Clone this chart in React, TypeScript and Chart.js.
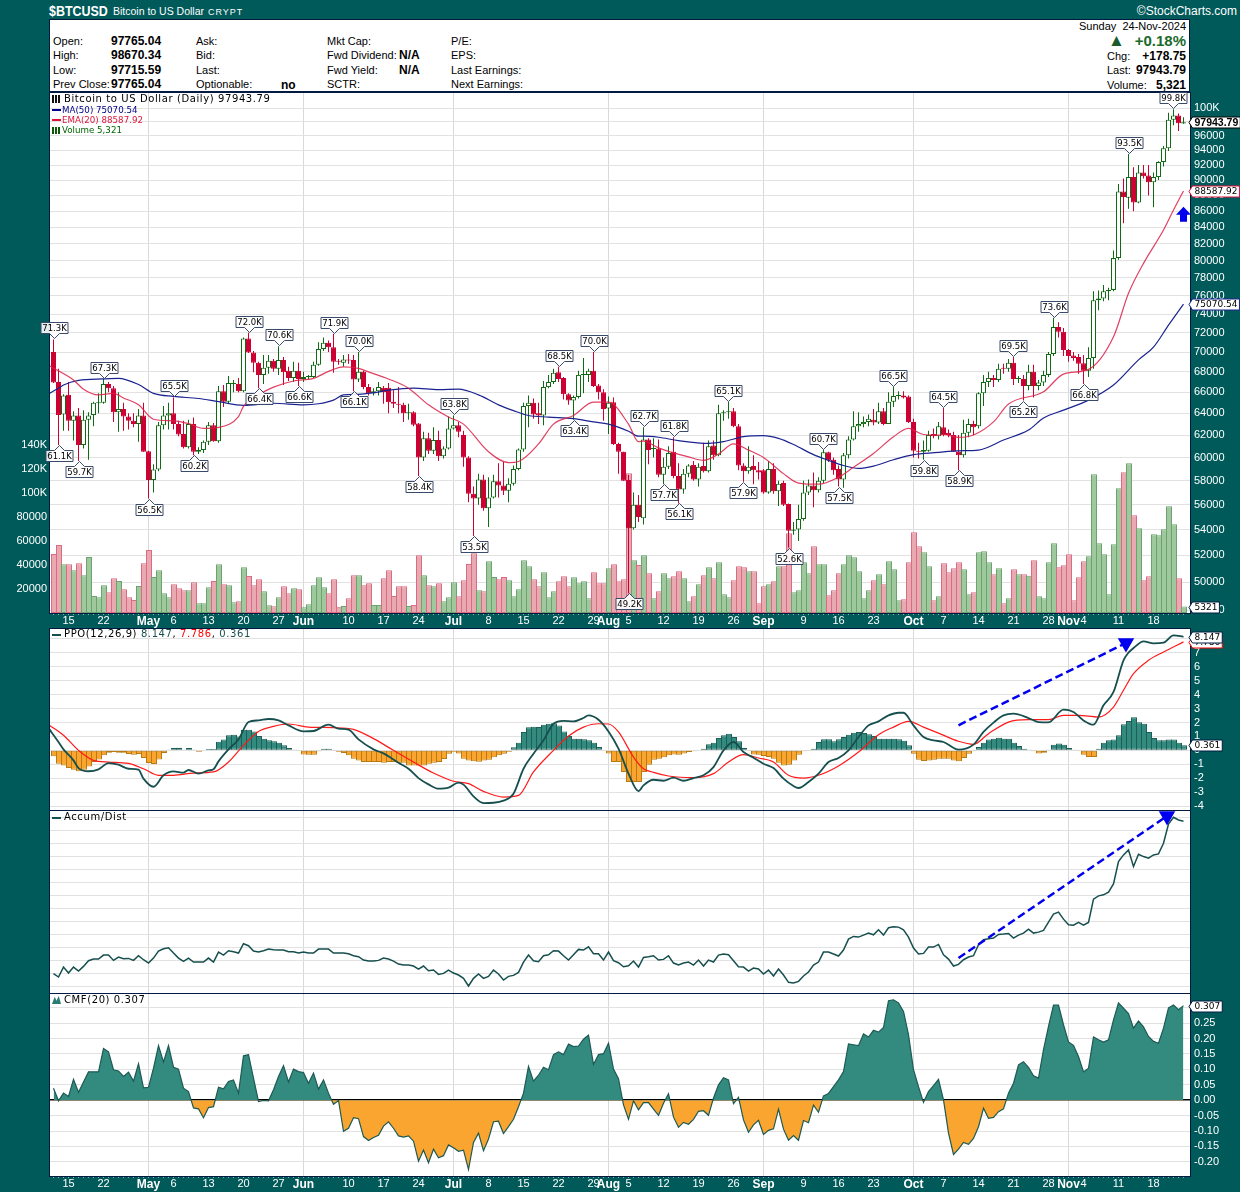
import React, { useEffect, useRef } from 'react'
import { Chart, registerables } from 'chart.js'

Chart.register(...registerables)

// days are counted from 12-Apr-2024 = 0, last day is 24-Nov-2024 = 226
const opens = [
  70000,67000,63900,65750,63300,63800,61100,63400,63850,64950,
  65000,66800,66400,64100,64400,63700,63300,63000,63800,60550,
  58050,58950,62900,63800,64000,63000,62100,60900,63000,60500,
  60650,61400,62900,61450,66100,65100,66800,66800,66100,71400,
  69950,68900,67700,68400,69100,68300,69200,68100,67400,68100,
  67300,67500,67500,68700,70300,70950,70500,69100,68900,69250,
  69200,67250,68000,66500,65900,66100,66450,66450,65100,64900,
  64800,64000,64100,63050,60000,61700,60600,61550,60100,60800,
  62600,62900,62000,60000,56900,56500,58100,55700,56600,57950,
  57600,57150,57750,59000,60700,64700,65000,64000,63800,66500,
  67000,67950,67400,65800,65200,65550,67700,67700,68100,66650,
  66000,64450,65050,61200,60500,58050,54100,56000,54900,61600,
  60750,60800,58500,59200,60500,58400,57250,58600,59350,58100,
  59250,58800,61050,60200,64000,64100,64200,62800,59300,58800,
  59250,58900,58900,57000,59000,57100,57800,56050,53900,54000,
  54850,57000,57600,57200,58000,60450,59800,59000,58100,60200,
  61600,62800,63000,63200,63400,63150,64200,63000,65100,65650,
  65700,65600,63200,60600,60500,60600,62100,61900,62700,62200,
  62000,60500,60200,62200,63000,62800,65900,67000,67400,67200,
  68350,68300,68900,67300,67300,66600,68000,66600,66950,67700,
  69800,72600,72100,70200,69650,69500,68850,68100,69400,75500,
  75700,76500,76650,80300,88500,87700,90400,87100,91000,90600,
  89700,90400,92400,94300,98300,98900,97765.04,
]
const closes = [
  66950,63850,65700,63300,63800,61100,63400,63800,65000,65050,
  66800,66400,64100,64400,63700,63300,63000,63800,60500,58050,
  58950,62900,63800,64000,63000,62050,60900,63000,60500,60650,
  61400,62900,61450,66100,65100,66900,66900,66100,71400,69950,
  68900,67700,68400,69100,68300,69200,67950,67400,68100,67300,
  67500,67600,68700,70300,70950,70500,69000,69000,69250,69150,
  67250,68000,66500,65900,66100,66500,66000,65050,64900,64800,
  64000,64100,62950,60000,61700,60600,61550,60100,60800,62600,
  62900,62300,60000,56900,56500,58100,55700,56600,57950,57600,
  57150,57750,59000,60700,64700,65000,63900,63800,66500,67000,
  67900,67300,65800,65200,65550,67700,67750,68100,66600,66000,
  64400,65000,61200,60500,58000,54100,56000,55000,61600,60650,
  60800,58500,59200,60400,58400,57250,58600,59300,58100,59200,
  58800,61000,60200,64000,64100,64200,62800,59300,58800,59200,
  58900,58700,57000,59000,57100,57750,56000,53900,54000,54850,
  57000,57600,57200,58000,60450,59750,58900,58100,60200,61600,
  62800,63000,63200,63500,63150,64200,63000,65100,65650,65700,
  65500,63200,60600,60500,60650,62000,61900,62800,62000,62000,
  60500,60200,62200,63000,62700,65900,67000,67400,67200,68300,
  68300,68900,67300,67350,66600,68000,66600,66950,67700,69800,
  72600,72100,70200,69600,69400,68800,68100,69400,75500,75700,
  76500,76650,80300,88500,87800,90400,87100,91000,90500,89700,
  90400,92400,94300,98300,98900,97800,97943.79,
]
const highs = [
  71300,68300,65800,67000,64200,64500,64300,64100,65100,65900,
  67300,67000,66600,66000,65000,64000,64000,64400,65000,60600,
  59400,63200,64700,65000,65500,63300,63300,63400,63600,60900,
  61500,63200,63100,66600,66700,67600,67200,67400,71500,72000,
  70100,69000,69700,69700,69300,70600,69500,68500,69000,68900,
  68000,67700,69000,71000,71500,71200,71900,69300,69700,69800,
  69700,70000,68100,66800,66400,67000,66600,66900,66200,66500,
  65000,64900,64200,63100,62300,62200,62700,62400,61000,63700,
  63800,63200,62400,60100,57500,58600,58500,58300,58500,59500,
  59600,58200,59300,60800,65000,65700,65400,65000,67100,67700,
  68300,68500,67500,65900,65700,68100,69400,68300,70000,66800,
  66300,65600,65500,61300,60500,58500,57000,56800,62700,61700,
  61700,61600,60000,61000,61800,59500,59000,59400,59700,59500,
  61300,61500,61500,64800,64300,65100,64500,63000,59500,61000,
  60200,59600,59000,59700,59500,58000,58000,56100,54600,56000,
  58000,58100,58700,58300,60700,60500,60000,59300,60400,61900,
  64200,64100,63700,63900,64400,65000,64500,66000,66500,66100,
  66100,65700,63500,61300,61500,62400,62600,63200,64500,62500,
  62300,62000,63400,63500,63300,66000,67700,68000,67700,68800,
  68800,69300,69500,67600,67700,68700,68700,67200,68100,70000,
  73600,73100,72500,70300,70000,69800,69700,70500,76500,76600,
  77200,76900,81200,89500,90200,93500,91700,92000,92000,92000,
  91000,92500,94600,99300,99800,99200,98670.34,
]
const lows = [
  66900,61100,62400,62400,61500,59700,60800,59800,62800,64000,
  64900,66000,63200,62300,62400,62500,62700,61400,60500,56500,
  57000,58800,62500,62500,62500,61900,60800,60800,60200,60300,
  60400,61100,61400,61300,64600,64900,66000,66000,66000,69900,
  67950,66400,66800,67800,68000,67700,66700,67100,67000,66600,
  67000,67300,67400,68600,70100,70000,67900,68700,68500,68800,
  66100,67000,66300,65700,65700,65700,64900,64000,64500,64000,
  63200,63400,62800,58400,59700,60300,60300,59700,59900,60700,
  62500,61800,59200,56200,53500,56000,55500,54200,56500,56600,
  56800,56200,57600,58900,60500,62700,63500,63000,62900,66400,
  66800,67000,65300,64800,63400,65400,65900,67000,66500,65300,
  63300,62100,61100,58600,58000,49200,54000,54600,54400,59400,
  60000,58300,57700,59000,58200,56100,56900,58300,58000,57500,
  58700,58700,59800,60100,63300,63500,62700,58900,57900,58600,
  57700,58100,56900,56900,56900,55900,55900,52600,53600,53100,
  54700,56800,55800,57000,57800,59600,58500,57500,57400,59900,
  61500,62300,62700,62800,62900,63000,62900,63000,64600,65300,
  65400,63100,60000,59900,59800,60500,61700,61600,61900,61800,
  60500,58900,60000,61800,62000,62600,64700,66500,66500,67000,
  67800,68000,66700,66900,65200,66200,65500,66200,66600,67500,
  69600,71500,69600,69000,69100,67800,66800,67500,68300,74400,
  75400,75500,76500,80100,84500,86300,86000,87000,90200,88000,
  86500,90000,91800,93900,97500,96700,97715.59,
]
const volumes = [
  49200,56700,40600,40600,35600,41400,31400,46700,14200,13100,
  23100,17200,28900,26700,19700,13100,10800,22500,41400,52500,
  30000,35600,16400,13100,23900,20600,18900,18900,25600,8100,
  8100,21400,26700,40600,23900,23100,8900,9700,38100,30900,
  23100,28100,18100,6400,5600,13100,22200,16400,20600,19700,
  4700,7200,23100,29700,21400,16400,28100,5300,5800,12200,
  31400,31400,23100,24700,6700,6700,28900,35600,14200,22200,
  22200,5800,6700,48100,31400,23100,22200,24700,9700,13100,
  25600,13900,27200,40900,49800,18900,18100,43100,30000,28100,
  30000,27200,13900,19700,43900,38900,28100,22200,33900,13100,
  18100,26400,30600,22200,29700,24700,26400,12200,33900,24700,
  24700,37300,40600,26400,28100,116500,43900,40000,48100,33100,
  12200,18100,33100,28900,30600,34800,28900,9700,13900,23900,
  31400,38100,28900,42300,15600,13100,27200,38900,38100,34800,
  34800,8100,22200,23900,26400,38900,38900,66400,17200,18900,
  42300,33100,55600,40600,40600,14700,18900,33100,40600,48100,
  46400,34800,12200,18900,27200,32200,23900,43100,36400,10600,
  11400,42300,67300,55600,50600,38900,10600,13900,41400,33900,
  37300,42300,36400,15600,17200,50600,51400,42300,32200,37300,
  8100,12200,36400,32200,32200,31100,43900,13900,12200,42300,
  58100,38100,39800,48900,10600,29700,43100,47300,115600,58100,
  48900,15600,57300,104000,117300,124800,81500,70600,27200,30600,
  65600,64800,69800,89000,73900,28900,5321,
]
const maDays = [-1,1,2,5,10,13,17,20,24,29,33,38,44,50,53,56,58,61,64,67,72,77,81,85,89,92,95,99,104,108,111,115,117,118,121,125,131,134,138,142,145,148,152,155,158,161,164,168,172,177,178,181,185,190,195,198,202,207,212,217,220,223,226]
const maValues = [65850,66400,66700,67150,67300,67350,66750,65900,65600,65400,65100,64750,64950,64800,64900,65250,65750,65800,65950,66200,66400,66250,66300,65750,64800,64250,63800,63650,63500,63200,63000,62350,61900,61900,61800,61500,61250,61400,61850,61950,61700,61150,60250,59750,59300,59050,59250,59800,60250,60450,60500,60590,60650,61550,62450,63560,64300,65250,66700,69200,70500,72800,75070.54]
const emaDays = [-1,1,4,6,9,12,14,17,20,24,27,30,33,37,38,41,44,48,52,55,58,61,63,67,71,75,79,82,87,91,93,97,100,104,108,111,115,117,118,121,124,127,130,133,136,139,142,146,149,153,157,160,164,168,171,174,177,178,181,184,188,191,198,202,207,212,215,218,222,224,226]
const emaValues = [68650,68100,67200,66300,65750,65900,65450,64800,63450,63300,63050,62600,62700,63700,64650,65750,66500,67100,67350,68050,68500,68350,68000,67300,66400,64800,63650,63000,60500,59550,59650,61200,63000,63800,65050,65050,63000,61400,61450,60850,60400,60050,59750,60300,61200,60650,60000,58600,57800,57700,58300,59150,60350,61850,62600,62050,62000,62060,61790,62000,63200,64870,66050,67780,68250,71580,76270,79680,83660,86150,88587.92]
const ppoDays = [-1,1,2,4,5,7,9,11,13,15,17,18,20,22,24,26,27,29,31,32,33,35,37,39,41,43,45,47,50,52,55,57,59,61,64,66,69,71,73,75,77,79,81,82,84,86,88,90,92,94,96,98,100,102,104,106,107,109,111,113,115,117,118,120,122,124,126,128,130,132,134,136,138,140,142,144,146,148,149,151,153,155,157,159,161,163,165,167,169,170,172,174,176,178,181,184,186,188,190,192,195,197,199,202,204,206,208,210,212,214,215,216,218,220,222,224,226]
const ppoValues = [1.6,.6,.07,-.72,-1.27,-1.5,-1.36,-.91,-1.03,-1.32,-1.39,-2.03,-2.61,-1.79,-1.51,-1.6,-1.41,-1.67,-1.44,-1.36,-.79,.07,.79,2.03,2.15,2.25,2.15,1.79,1.36,1.39,1.84,1.56,1.48,.79,.07,-.22,-.89,-1.32,-1.99,-2.44,-2.75,-2.68,-2.32,-2.46,-3.3,-3.78,-3.76,-3.61,-3.11,-1.32,-.24,.72,1.91,2.11,2.08,2.32,2.51,2.2,1.36,.12,-1.67,-2.92,-2.51,-2.11,-2.18,-1.96,-2.18,-1.99,-1.79,-1.2,0,.6,-.12,-.53,-.96,-1.27,-2.03,-2.56,-2.7,-2.27,-1.67,-.84,-.55,0,.96,1.79,2.08,2.51,2.7,2.7,1.79,.96,.72,.6,.05,.41,1.32,1.99,2.51,2.63,2.32,2.03,2.01,2.92,2.75,2.15,1.84,3.23,4.19,6.46,7.01,7.34,7.82,7.68,7.73,8.25,8.147]
const signalDays = [-1,2,5,8,11,15,18,21,24,28,32,35,38,41,44,47,51,56,60,64,68,72,76,80,83,86,90,93,96,100,103,106,109,111,113,116,118,120,123,128,132,135,138,141,144,147,150,153,157,161,165,168,171,174,177,181,184,187,191,195,199,202,205,209,212,214,216,219,222,226]
const signalValues = [1.84,1.08,0,-.72,-.84,-.93,-1.32,-1.79,-1.79,-1.63,-1.55,-.84,.36,1.36,1.72,1.89,1.67,1.63,1.51,.84,0,-.84,-1.63,-2.22,-2.39,-2.94,-3.35,-3.23,-1.55,0,1.03,1.67,1.91,1.89,1.32,-.48,-1.32,-1.58,-1.84,-1.96,-1.67,-.84,-.31,-.55,-.84,-1.79,-1.99,-1.79,-1.12,-.12,1.12,1.67,2.08,1.67,1.24,.65,.43,1.2,2.03,2.2,2.2,2.51,2.51,2.39,3.11,4.31,5.5,6.46,7.06,7.786]
const histValues = [
  -.43,-.96,-1.08,-1.27,-1.39,-1.5,-1.39,-1.15,-.84,-.65,
  -.36,-.17,-.12,-.17,-.17,-.26,-.31,-.26,-.55,-.91,
  -.98,-.65,-.19,.07,.17,.19,.07,.17,.07,-.1,
  -.02,.1,.1,.62,.77,1.08,1.12,1,1.48,1.48,
  1.36,1.03,.84,.72,.65,.55,.36,.17,.07,-.05,
  -.29,-.31,-.31,-.07,.12,.12,-.05,-.1,-.19,-.36,
  -.6,-.72,-.84,-.84,-.84,-.84,-.89,-.84,-.84,-.89,
  -.89,-1.08,-1.08,-1.08,-1.08,-.96,-.89,-.84,-.62,-.24,
  -.1,-.22,-.6,-.72,-.79,-.81,-.72,-.67,-.5,-.36,
  -.24,-.1,.22,.55,1.32,1.65,1.7,1.67,1.84,1.91,
  1.94,1.79,1.36,1.03,.84,.84,.79,.72,.55,.24,
  -.02,-.22,-.84,-.84,-1.55,-2.27,-2.27,-2.27,-1.55,-1.03,
  -.67,-.6,-.5,-.36,-.29,-.31,-.22,-.12,-.07,.05,
  .12,.43,.55,.89,1.08,1.2,.96,.65,.19,-.05,
  -.29,-.31,-.41,-.48,-.6,-.89,-1.08,-1.03,-.72,-.31,
  -.07,-.05,.12,.6,.79,.79,.65,.79,.96,1.12,
  1.27,1.32,1.24,1.15,1.03,.84,.84,.84,.84,.79,
  .69,.36,-.24,-.67,-.77,-.72,-.67,-.6,-.6,-.6,
  -.72,-.79,-.55,-.24,-.07,.24,.55,.77,.84,.91,
  .84,.84,.55,.31,.12,.02,-.07,-.22,-.17,.02,
  .41,.5,.41,.17,.02,-.05,-.31,-.48,-.48,.12,
  .55,.72,.77,1.08,1.87,2.11,2.37,2.01,1.91,1.32,
  .89,.72,.72,.77,.77,.55,.361,
]
const accumDist = [
  37,27,57,39,57,45,59,76,81,81,
  93,93,77,87,82,83,77,91,79,69,
  84,105,112,115,99,84,74,84,72,72,
  72,84,72,102,93,106,103,99,127,121,
  105,102,106,111,109,108,108,103,103,99,
  102,99,99,111,111,111,99,99,99,97,
  91,88,78,75,75,77,84,81,75,66,
  63,63,60,51,60,46,48,35,38,48,
  39,33,23,0,23,36,23,29,48,36,
  18,29,32,41,72,93,76,73,91,94,
  106,105,91,78,94,110,108,118,97,97,
  78,102,76,70,58,61,75,57,86,88,
  91,78,80,91,69,63,69,72,63,78,
  60,78,72,93,96,94,76,58,57,45,
  54,51,36,48,30,51,33,11,9,14,
  30,42,63,72,102,102,96,90,108,141,
  149,147,153,159,154,169,153,175,178,177,
  169,147,114,96,98,117,117,125,94,81,
  60,65,79,87,91,124,139,142,144,155,
  156,158,144,153,159,171,159,162,167,192,
  216,222,201,184,183,191,183,191,261,271,
  274,282,307,374,394,409,359,396,389,384,
  394,397,429,487,507,499,495,
]
const cmfValues = [
  .039,-.002,.023,.012,.068,.026,.059,.092,.092,.092,
  .168,.157,.099,.095,.077,.091,.062,.118,.04,.042,
  .104,.177,.124,.177,.107,.101,.039,.028,-.025,-.028,
  -.057,-.024,-.021,.042,.037,.061,.066,.023,.144,.148,
  .072,-.004,-.001,-.002,.034,.077,.112,.059,.101,.093,
  .09,.055,.088,.036,.066,.023,-.013,-.001,-.101,-.091,
  -.057,-.06,-.118,-.131,-.121,-.114,-.084,-.07,-.091,-.116,
  -.12,-.116,-.133,-.198,-.162,-.203,-.159,-.187,-.18,-.145,
  -.154,-.166,-.162,-.225,-.137,-.107,-.164,-.126,-.07,-.068,
  -.108,-.086,-.062,-.021,.023,.11,.062,.081,.107,.099,
  .148,.157,.148,.182,.174,.176,.198,.211,.116,.148,
  .151,.185,.101,.07,-.015,-.062,-.002,-.031,-.008,-.008,
  -.029,-.049,-.01,.021,-.055,-.088,-.072,-.078,-.062,-.036,
  -.034,-.049,.007,.05,.073,.066,-.011,.009,-.064,-.104,
  -.08,-.065,-.111,-.098,-.093,-.029,-.094,-.13,-.115,-.13,
  -.066,-.073,-.016,-.039,.014,.022,.044,.066,.093,.183,
  .18,.177,.215,.205,.227,.221,.236,.323,.326,.316,
  .288,.213,.099,.044,-.007,.028,.047,.068,.001,-.107,
  -.176,-.159,-.137,-.143,-.124,-.086,-.026,-.059,-.056,-.037,
  -.028,.023,.055,.115,.125,.107,.079,.072,.164,.24,
  .309,.309,.245,.189,.178,.142,.092,.104,.205,.196,
  .189,.196,.261,.316,.299,.281,.234,.257,.238,.207,
  .191,.185,.234,.3,.309,.294,.307,
]

const highLabelDays = [0,10,24,39,45,56,61,80,101,108,118,124,135,154,168,178,192,200,215,224]
const lowLabelDays = [1,5,19,28,41,49,60,73,84,104,115,122,125,138,147,157,174,181,194,206]

const xTickDays = [3,10,19,24,31,38,45,50,59,66,73,80,87,94,101,108,111,115,122,129,136,142,150,157,164,172,178,185,192,199,203,206,213,220]
const xTickLabels = ['15','22','May','6','13','20','27','Jun','10','17','24','Jul','8','15','22','29','Aug','5','12','19','26','Sep','9','16','23','Oct','7','14','21','28','Nov','4','11','18']
const monthDays = [19,50,80,111,142,172,203]

const priceTicks = [48000,50000,52000,54000,56000,58000,60000,62000,64000,66000,68000,70000,72000,74000,76000,78000,80000,82000,84000,86000,88000,90000,92000,94000,96000,98000,100000]
const volumeTicks = [20000,40000,60000,80000,100000,120000,140000]
const ppoTicks = [-4,-3,-2,-1,0,1,2,3,4,5,6,7,8]
const adTicks = [0,39,78,117,156,195,234,273,312,351,390,429,468,507]
const cmfTicks = [-0.2,-0.15,-0.1,-0.05,0,0.05,0.1,0.15,0.2,0.25,0.3]

const TEAL = '#005a5a'
const GRID = '#e2e2e2'
const EDGE = '#001a40'
const GREEN = '#0e6b12'
const RED = '#cc0033'
const SANS = '"Liberation Sans", Arial, sans-serif'
const DEJAVU = '"DejaVu Sans", sans-serif'

const isUp = (i: number) => closes[i] >= opens[i]
const zip = (days: number[], values: number[]) => days.map((d, i) => ({ x: d, y: values[i] }))
const byDay = (values: number[]) => values.map((v, i) => ({ x: i, y: v }))
// 6px bars on a 5px day step share one border line; the nudge keeps their edges on whole pixels
const sharedEdge = (values: number[]) => values.map((v, i) => ({ x: i + 0.1, y: v }))

const noPad = (s: any) => {
  s.paddingLeft = 0
  s.paddingRight = 0
  s.paddingTop = 0
  s.paddingBottom = 0
}

const xAxis = (labelHeight: number) => ({
  type: 'linear',
  min: -0.7,
  max: 227.3,
  offset: false,
  border: { display: false },
  afterBuildTicks: (s: any) => {
    s.ticks = labelHeight
      ? Array.from({ length: 227 }, (_, i) => ({ value: i }))
      : monthDays.map((d) => ({ value: d }))
  },
  afterFit: (s: any) => {
    s.height = labelHeight
    noPad(s)
  },
  grid: {
    offset: false,
    color: (c: any) => (monthDays.includes(c.tick?.value) ? '#d9d9d9' : 'rgba(0,0,0,0)'),
    drawTicks: labelHeight > 0,
    tickLength: 2,
    tickColor: 'rgba(255,255,255,0.55)',
  },
  ticks: {
    display: labelHeight > 0,
    autoSkip: false,
    maxRotation: 0,
    minRotation: 0,
    padding: -1,
    color: '#ffffff',
    font: (c: any) =>
      monthDays.includes(c.tick?.value)
        ? { family: SANS, size: 12, weight: 'bold' }
        : { family: SANS, size: 11 },
    callback: (v: number) => {
      const k = xTickDays.indexOf(v)
      return k >= 0 ? xTickLabels[k] : ''
    },
  },
})

const yRight = (min: number, max: number, ticks: number[], format: ((v: number) => string) | null, zeroLine = false) => ({
  position: 'right',
  min,
  max,
  border: { display: false },
  afterBuildTicks: (s: any) => {
    s.ticks = ticks.map((v) => ({ value: v }))
  },
  afterFit: (s: any) => {
    s.width = 50
    noPad(s)
  },
  grid: {
    color: (c: any) => (zeroLine && Math.abs(c.tick?.value) < 1e-9 ? '#000000' : GRID),
    lineWidth: (c: any) => (zeroLine && Math.abs(c.tick?.value) < 1e-9 ? 1.5 : 1),
    drawTicks: false,
  },
  ticks: {
    display: !!format,
    autoSkip: false,
    padding: 4,
    color: '#ffffff',
    font: { family: SANS, size: 11 },
    callback: (v: number) => (format ? format(v) : ''),
  },
})

type Tag = { value: number; axis: string; text: string; color: string; bold?: boolean }

const chrome = (tags: Tag[], draw?: (chart: any, ctx: CanvasRenderingContext2D) => void) => ({
  id: 'chrome',
  beforeDraw: (chart: any) => {
    const { ctx, chartArea: a } = chart
    ctx.save()
    ctx.fillStyle = '#ffffff'
    ctx.fillRect(a.left, a.top, a.right - a.left, a.bottom - a.top)
    ctx.restore()
  },
  afterDraw: (chart: any) => {
    const { ctx, chartArea: a } = chart
    ctx.save()
    ctx.strokeStyle = EDGE
    ctx.lineWidth = 1
    ctx.strokeRect(a.left - 0.5, a.top + 0.5, a.right - a.left + 1, a.bottom - a.top)
    if (draw) draw(chart, ctx)
    for (const t of tags) {
      const y = Math.round(chart.scales[t.axis].getPixelForValue(t.value)) + 0.5
      ctx.font = t.bold ? `bold 10.5px ${SANS}` : `9px ${DEJAVU}`
      const w = ctx.measureText(t.text).width + 4
      ctx.beginPath()
      ctx.moveTo(1189, y)
      ctx.lineTo(1192.5, y - 5.5)
      ctx.lineTo(1192.5 + w, y - 5.5)
      ctx.lineTo(1192.5 + w, y + 5.5)
      ctx.lineTo(1192.5, y + 5.5)
      ctx.closePath()
      ctx.fillStyle = '#ffffff'
      ctx.fill()
      ctx.strokeStyle = t.color
      ctx.lineWidth = 1
      ctx.stroke()
      ctx.fillStyle = '#000000'
      ctx.textAlign = 'left'
      ctx.textBaseline = 'middle'
      ctx.fillText(t.text, 1194.5, y + 0.5)
    }
    ctx.restore()
  },
})

const callout = (ctx: CanvasRenderingContext2D, x: number, tip: number, dir: number, text: string) => {
  const boxW = 27
  const boxH = 11
  const near = tip + dir * 5
  const far = near + dir * boxH
  ctx.beginPath()
  ctx.moveTo(x, tip)
  ctx.lineTo(x + 5, near)
  ctx.lineTo(x + boxW / 2, near)
  ctx.lineTo(x + boxW / 2, far)
  ctx.lineTo(x - boxW / 2, far)
  ctx.lineTo(x - boxW / 2, near)
  ctx.lineTo(x - 5, near)
  ctx.closePath()
  ctx.fillStyle = 'rgba(255,255,255,0.9)'
  ctx.fill()
  ctx.strokeStyle = '#3a4a6a'
  ctx.lineWidth = 1
  ctx.stroke()
  ctx.fillStyle = '#000000'
  ctx.font = `8.5px ${DEJAVU}`
  ctx.textAlign = 'center'
  ctx.textBaseline = 'middle'
  ctx.fillText(text, x, (near + far) / 2 + 0.5)
}

const priceExtras = (chart: any, ctx: CanvasRenderingContext2D) => {
  const { x, y } = chart.scales
  const label = (v: number) => (v / 1000).toFixed(1) + 'K'
  for (const d of highLabelDays) callout(ctx, Math.round(x.getPixelForValue(d)) + 0.5, Math.round(y.getPixelForValue(highs[d])) - 0.5, -1, label(highs[d]))
  for (const d of lowLabelDays) callout(ctx, Math.round(x.getPixelForValue(d)) + 0.5, Math.round(y.getPixelForValue(lows[d])) + 0.5, 1, label(lows[d]))
  // blue up arrow on the last day
  const ax = x.getPixelForValue(226)
  const tip = y.getPixelForValue(86560)
  const base = y.getPixelForValue(84690)
  ctx.fillStyle = '#0000ee'
  ctx.beginPath()
  ctx.moveTo(ax, tip)
  ctx.lineTo(ax + 7.5, tip + 8)
  ctx.lineTo(ax + 3.5, tip + 8)
  ctx.lineTo(ax + 3.5, base)
  ctx.lineTo(ax - 3.5, base)
  ctx.lineTo(ax - 3.5, tip + 8)
  ctx.lineTo(ax - 7.5, tip + 8)
  ctx.closePath()
  ctx.fill()
}

const barBase = { type: 'bar', grouped: false, inflateAmount: 0, xAxisID: 'x', barPercentage: 1, categoryPercentage: 1 }
const thinLine = { type: 'line', pointRadius: 0, xAxisID: 'x', fill: false }

const baseOptions: any = {
  animation: false,
  responsive: false,
  events: [],
  layout: { padding: 0, autoPadding: false },
  plugins: { legend: { display: false }, tooltip: { enabled: false } },
}

const leftPad = { padding: { left: 50, right: 0, top: 0, bottom: 0 }, autoPadding: false }

const priceConfig = (): any => ({
  type: 'bar',
  data: {
    datasets: [
      {
        ...barBase,
        yAxisID: 'yVol',
        order: 10,
        barThickness: 6,
        borderWidth: 1,
        borderSkipped: false,
        data: sharedEdge(volumes),
        backgroundColor: volumes.map((_, i) => (isUp(i) ? '#9fc89c' : '#e9a9b0')),
        borderColor: volumes.map((_, i) => (isUp(i) ? '#6aa36f' : '#db6a85')),
      },
      {
        ...barBase,
        yAxisID: 'y',
        order: 5,
        barThickness: 1,
        data: lows.map((l, i) => ({ x: i, y: [l, highs[i]] })),
        backgroundColor: lows.map((_, i) => (isUp(i) ? GREEN : RED)),
      },
      {
        ...barBase,
        yAxisID: 'y',
        order: 4,
        barThickness: 5,
        borderWidth: 1,
        borderSkipped: false,
        minBarLength: 1,
        data: opens.map((o, i) => ({ x: i, y: [o, closes[i]] })),
        backgroundColor: opens.map((_, i) => (isUp(i) ? '#ffffff' : RED)),
        borderColor: opens.map((_, i) => (isUp(i) ? GREEN : RED)),
      },
      { ...thinLine, yAxisID: 'y', order: 2, cubicInterpolationMode: 'monotone', borderWidth: 1.2, borderColor: '#1a2390', data: zip(maDays, maValues) },
      { ...thinLine, yAxisID: 'y', order: 1, cubicInterpolationMode: 'monotone', borderWidth: 1.2, borderColor: 'rgba(220,30,70,0.85)', data: zip(emaDays, emaValues) },
    ],
  },
  options: {
    ...baseOptions,
    scales: {
      x: xAxis(15),
      y: {
        ...yRight(47800, 102367, priceTicks, (v) => (v >= 100000 ? '100K' : String(v))),
        type: 'logarithmic',
      },
      yVol: {
        type: 'linear',
        position: 'left',
        min: 0,
        max: 434167,
        border: { display: false },
        afterBuildTicks: (s: any) => {
          s.ticks = volumeTicks.map((v) => ({ value: v }))
        },
        afterFit: (s: any) => {
          s.width = 50
          noPad(s)
        },
        grid: { display: false, drawTicks: false },
        ticks: {
          autoSkip: false,
          padding: 3,
          color: '#ffffff',
          font: { family: SANS, size: 11 },
          callback: (v: number) => (v >= 100000 ? v / 1000 + 'K' : String(v)),
        },
      },
    },
  },
})

const ppoConfig = (): any => ({
  type: 'bar',
  data: {
    datasets: [
      {
        ...barBase,
        yAxisID: 'y',
        order: 5,
        barThickness: 6,
        borderWidth: 1,
        borderSkipped: false,
        data: sharedEdge(histValues),
        backgroundColor: histValues.map((v) => (v >= 0 ? '#338a7e' : '#f9a52f')),
        borderColor: histValues.map((v) => (v >= 0 ? '#1d5f57' : '#b97a12')),
      },
      { ...thinLine, yAxisID: 'y', order: 3, cubicInterpolationMode: 'monotone', borderWidth: 1.2, borderColor: '#ff1a1a', data: zip(signalDays, signalValues) },
      { ...thinLine, yAxisID: 'y', order: 2, cubicInterpolationMode: 'monotone', borderWidth: 1.8, borderColor: '#174f4f', data: zip(ppoDays, ppoValues) },
      {
        type: 'line',
        xAxisID: 'x',
        yAxisID: 'y',
        order: 1,
        borderWidth: 2.5,
        borderColor: '#0000ee',
        borderDash: [8, 4],
        pointStyle: 'triangle',
        pointRotation: 180,
        pointRadius: [0, 7],
        pointBackgroundColor: '#0000ee',
        pointBorderColor: '#0000ee',
        clip: false,
        data: [{ x: 181, y: 1.8 }, { x: 214.5, y: 7.7 }],
      },
    ],
  },
  options: {
    ...baseOptions,
    layout: leftPad,
    scales: {
      x: xAxis(0),
      y: yRight(-4.28, 8.78, ppoTicks, (v) => String(v)),
    },
  },
})

const adConfig = (): any => ({
  type: 'line',
  data: {
    datasets: [
      { ...thinLine, yAxisID: 'y', order: 2, borderWidth: 1.5, borderColor: '#174f4f', data: byDay(accumDist) },
      {
        type: 'line',
        xAxisID: 'x',
        yAxisID: 'y',
        order: 1,
        borderWidth: 2.5,
        borderColor: '#0000ee',
        borderDash: [8, 4],
        pointStyle: 'triangle',
        pointRotation: 180,
        pointRadius: [0, 7],
        pointBackgroundColor: '#0000ee',
        pointBorderColor: '#0000ee',
        clip: false,
        data: [{ x: 181, y: 84 }, { x: 222.7, y: 511 }],
      },
    ],
  },
  options: {
    ...baseOptions,
    layout: leftPad,
    scales: {
      x: xAxis(0),
      y: yRight(-21, 529, adTicks, null),
    },
  },
})

const cmfConfig = (): any => ({
  type: 'line',
  data: {
    datasets: [
      {
        ...thinLine,
        yAxisID: 'y',
        borderWidth: 1.2,
        borderColor: '#1d5a55',
        fill: { target: { value: 0 }, above: '#338a7e', below: '#f9a52f' },
        data: byDay(cmfValues),
      },
    ],
  },
  options: {
    ...baseOptions,
    layout: leftPad,
    scales: {
      x: xAxis(16),
      y: yRight(-0.246, 0.348, cmfTicks, (v) => v.toFixed(2), true),
    },
  },
})

const Panel = ({ top, height, config, plugin }: { top: number; height: number; config: () => any; plugin: any }) => {
  const ref = useRef<HTMLCanvasElement>(null)

  useEffect(() => {
    if (!ref.current) return
    const chart = new Chart(ref.current, { ...config(), plugins: [plugin] })
    return () => {
      chart.destroy()
    }
  }, [])

  return <canvas ref={ref} width={1240} height={height} style={{ position: 'absolute', left: 0, top, width: 1240, height }} />
}

const T = ({ x, y, right, size = 11, bold, color = '#000', font = SANS, style, children }: any) => (
  <div
    style={{
      position: 'absolute',
      top: y - 7,
      lineHeight: '14px',
      ...(right !== undefined ? { right: 1240 - right } : { left: x }),
      fontFamily: font,
      fontSize: size,
      fontWeight: bold ? 'bold' : 'normal',
      color,
      whiteSpace: 'pre',
      ...style,
    }}
  >
    {children}
  </div>
)

const rows = [41, 55, 70, 84]
const quoteLabels = ['Open:', 'High:', 'Low:', 'Prev Close:']
const quoteValues = ['97765.04', '98670.34', '97715.59', '97765.04']
const midLabels = ['Ask:', 'Bid:', 'Last:', 'Optionable:']
const fundLabels = ['Mkt Cap:', 'Fwd Dividend:', 'Fwd Yield:', 'SCTR:']
const earnLabels = ['P/E:', 'EPS:', 'Last Earnings:', 'Next Earnings:']

const swatch = (x: number, y: number, color: string) => (
  <div style={{ position: 'absolute', left: x, top: y, width: 9, height: 2, background: color }} />
)

const legendStyle = { letterSpacing: 0.6 }

export default function App() {
  useEffect(() => {
    document.body.style.margin = '0'
    document.body.style.background = TEAL
  }, [])

  return (
    <div style={{ position: 'relative', width: 1240, height: 1192, overflow: 'hidden', background: TEAL }}>
      <div style={{ position: 'absolute', left: 49, top: 19, width: 1141, height: 73, background: '#fff', boxSizing: 'border-box', border: `1px solid ${EDGE}` }} />
      <Panel top={92} height={536} config={priceConfig} plugin={chrome([
        { value: volumes[226], axis: 'yVol', text: '5321', color: EDGE },
        { value: maValues[maValues.length - 1], axis: 'y', text: '75070.54', color: '#1a2390' },
        { value: emaValues[emaValues.length - 1], axis: 'y', text: '88587.92', color: '#dc143c' },
        { value: closes[226], axis: 'y', text: '97943.79', color: '#000', bold: true },
      ], priceExtras)} />
      <Panel top={628} height={182} config={ppoConfig} plugin={chrome([
        { value: signalValues[signalValues.length - 1], axis: 'y', text: '7.786', color: '#ff0000' },
        { value: ppoValues[ppoValues.length - 1], axis: 'y', text: '8.147', color: EDGE },
        { value: histValues[226], axis: 'y', text: '0.361', color: EDGE },
      ])} />
      <Panel top={810} height={183} config={adConfig} plugin={chrome([])} />
      <Panel top={993} height={199} config={cmfConfig} plugin={chrome([
        { value: cmfValues[226], axis: 'y', text: '0.307', color: EDGE },
      ])} />

      <T x={49} y={11} size={15} bold color="#fff" style={{ transform: 'scaleX(0.83)', transformOrigin: 'left' }}>$BTCUSD</T>
      <T x={113} y={11} size={10.5} color="#fff">Bitcoin to US Dollar</T>
      <T x={208} y={12} size={9} color="#fff" style={{ letterSpacing: 1 }}>CRYPT</T>
      <T right={1237} y={11} size={12} color="#fff">©StockCharts.com</T>

      {rows.map((y, i) => (
        <React.Fragment key={y}>
          <T x={53} y={y}>{quoteLabels[i]}</T>
          <T x={111} y={y} size={12} bold>{quoteValues[i]}</T>
          <T x={196} y={y}>{midLabels[i]}</T>
          <T x={327} y={y}>{fundLabels[i]}</T>
          <T x={451} y={y}>{earnLabels[i]}</T>
        </React.Fragment>
      ))}
      <T x={281} y={85} size={12} bold>no</T>
      <T x={399} y={55} size={12} bold>N/A</T>
      <T x={399} y={70} size={12} bold>N/A</T>

      <T right={1186} y={26}>{'Sunday  24-Nov-2024'}</T>
      <T x={1108} y={41} size={17} color="#1a5c2a">▲</T>
      <T right={1186} y={41} size={15} bold color="#1a6a2a">+0.18%</T>
      <T x={1107} y={56}>Chg:</T>
      <T right={1186} y={56} size={12} bold>+178.75</T>
      <T x={1107} y={70}>Last:</T>
      <T right={1186} y={70} size={12} bold>97943.79</T>
      <T x={1107} y={85}>Volume:</T>
      <T right={1186} y={85} size={12} bold>5,321</T>

      <T x={64} y={99} size={10} font={DEJAVU} style={legendStyle}>Bitcoin to US Dollar (Daily) 97943.79</T>
      <div style={{ position: 'absolute', left: 52, top: 95, width: 9, height: 8, background: 'repeating-linear-gradient(90deg,#111 0 2px,#fff 2px 3px)' }} />
      {swatch(52, 109, '#00008b')}
      <T x={62} y={110} size={8.7} font={DEJAVU} color="#00008b">MA(50) 75070.54</T>
      {swatch(52, 119, '#dc143c')}
      <T x={62} y={120} size={8.7} font={DEJAVU} color="#dc143c">EMA(20) 88587.92</T>
      <div style={{ position: 'absolute', left: 52, top: 127, width: 9, height: 7, background: 'repeating-linear-gradient(90deg,#0a5a0a 0 2px,#fff 2px 3px)' }} />
      <T x={62} y={130} size={8.7} font={DEJAVU} color="#006400">Volume 5,321</T>

      {swatch(52, 634, '#174f4f')}
      <T x={64} y={634} size={10} font={DEJAVU} style={legendStyle}>
        PPO(12,26,9) <span style={{ color: '#174f4f' }}>8.147</span>, <span style={{ color: '#f00' }}>7.786</span>, <span style={{ color: '#174f4f' }}>0.361</span>
      </T>
      {swatch(52, 817, '#174f4f')}
      <T x={64} y={817} size={10} font={DEJAVU} style={legendStyle}>Accum/Dist</T>
      <div style={{ position: 'absolute', left: 52, top: 996, width: 9, height: 8, background: '#2a7c72', clipPath: 'polygon(0 100%,30% 10%,50% 60%,75% 0,100% 100%)' }} />
      <T x={64} y={1000} size={10} font={DEJAVU} style={legendStyle}>CMF(20) 0.307</T>
    </div>
  )
}
